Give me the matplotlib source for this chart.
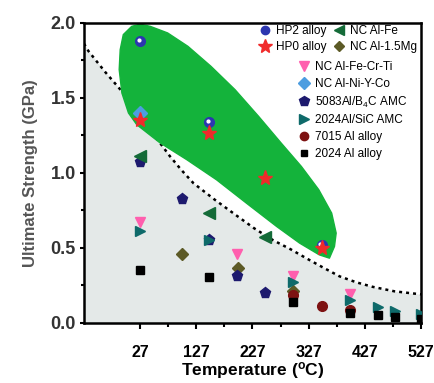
import numpy as np
import matplotlib
matplotlib.use('Agg')
import matplotlib.pyplot as plt
from matplotlib.lines import Line2D
from matplotlib.patches import Polygon
from matplotlib.ticker import MultipleLocator, FixedLocator
from matplotlib.transforms import offset_copy

plt.rcParams['font.family'] = ['Liberation Sans', 'DejaVu Sans']
plt.rcParams['mathtext.default'] = 'regular'

# data (temperature in C, strength in GPa)
hp2_t = [27, 150, 350]
hp2_s = [1.88, 1.335, 0.52]
hp0_t = [27, 150, 250, 350]
hp0_s = [1.353, 1.265, 0.965, 0.498]
alfe_t = [27, 150, 250]
alfe_s = [1.11, 0.735, 0.575]
almg_t = [101, 201, 300]
almg_s = [0.46, 0.365, 0.21]
alfecrti_t = [27, 200, 300, 400]
alfecrti_s = [0.67, 0.46, 0.31, 0.19]
alniyco_t = [27]
alniyco_s = [1.40]
b4c_t = [27, 101, 150, 200, 250]
b4c_s = [1.07, 0.825, 0.55, 0.313, 0.20]
sic_t = [27, 150, 300, 400, 450, 480, 527]
sic_s = [0.613, 0.55, 0.275, 0.15, 0.105, 0.08, 0.06]
al7015_t = [300, 350, 400]
al7015_s = [0.187, 0.113, 0.087]
al2024_t = [27, 150, 300, 400, 450, 480, 527]
al2024_s = [0.35, 0.305, 0.142, 0.065, 0.05, 0.04, 0.025]

# dashed boundary line
curve_t = [-73, -65, -35, -5, 20, 39, 60, 80, 100, 122, 160, 193, 230, 264, 295, 323, 352, 382, 412, 441, 480, 527]
curve_s = [1.86, 1.81, 1.67, 1.54, 1.42, 1.31, 1.21, 1.11, 1.02, 0.93, 0.82, 0.73, 0.63, 0.55, 0.49, 0.43, 0.37, 0.31, 0.27, 0.24, 0.21, 0.19]

# green highlight region outline
blob_t = [12, -3, -8.5, -10.3, -5.5, 6.2, 21, 62, 110, 163, 216, 270, 311, 346, 364,
          373, 376, 368, 345, 314, 278, 238, 196, 153, 112, 76, 45, 27]
blob_s = [1.975, 1.92, 1.82, 1.687, 1.531, 1.398, 1.32, 1.20, 1.087, 0.953, 0.798, 0.642, 0.531, 0.453, 0.431,
          0.509, 0.598, 0.731, 0.887, 1.042, 1.198, 1.375, 1.553, 1.709, 1.842, 1.931, 1.975, 1.99]

fig = plt.figure(figsize=(4.34, 3.83), dpi=100)
ax = fig.add_axes([0.1935, 0.157, 0.7765, 0.784])

ax.fill_between(curve_t, curve_s, 0, color='#e4e9e8', lw=0, zorder=0)
ax.plot(curve_t, curve_s, color='black', lw=1.8, ls=(0, (1.2, 1.6)), zorder=1)
ax.add_patch(Polygon(np.column_stack([blob_t, blob_s]), closed=True,
                     facecolor='#14b33b', edgecolor='#14b33b', lw=1, joinstyle='round', zorder=2))

ax.plot(alfecrti_t, alfecrti_s, 'v', color='#ff5fae', ms=7, ls='none', zorder=3)
ax.plot(almg_t, almg_s, 'D', color='#5c5a26', ms=6, ls='none', zorder=3)
ax.plot(b4c_t, b4c_s, 'p', color='#1d1a6e', ms=8, ls='none', zorder=3)
ax.plot(sic_t, sic_s, '>', color='#0e6a6a', ms=7, ls='none', zorder=4)
ax.plot(al7015_t, al7015_s, 'o', color='#7d1212', ms=7, ls='none', zorder=3)
ax.plot(al2024_t, al2024_s, 's', color='black', ms=6, ls='none', zorder=4)
ax.plot(alfe_t, alfe_s, '<', color='#146b38', ms=8, ls='none', zorder=4)
ax.plot(alniyco_t, alniyco_s, 'D', color='#4d9de0', ms=7, ls='none', zorder=4)
ax.plot(hp2_t, hp2_s, 'o', color='#2c36b0', ms=7, ls='none', zorder=5)
ax.plot(hp2_t, hp2_s, 'o', color='white', ms=2,
        transform=offset_copy(ax.transData, fig=fig, x=-0.8, y=0.8, units='points'), zorder=6)
ax.plot(hp0_t, hp0_s, '*', color='#f02a2a', ms=11, ls='none', zorder=6)

ax.set_xlim(-73, 527)
ax.set_ylim(0, 2.0)
ax.xaxis.set_major_locator(FixedLocator([27, 127, 227, 327, 427, 527]))
ax.xaxis.set_minor_locator(FixedLocator([77, 177, 277, 377, 477]))
ax.yaxis.set_major_locator(MultipleLocator(0.5))
ax.yaxis.set_minor_locator(MultipleLocator(0.25))
ax.yaxis.set_major_formatter(plt.FormatStrFormatter('%.1f'))
ax.tick_params(axis='x', which='major', direction='out', length=4, width=1.5, pad=12,
               labelsize=11.5, labelcolor='black')
ax.tick_params(axis='x', which='minor', direction='out', length=3, width=1.5)
ax.tick_params(axis='y', which='major', direction='out', length=3, width=1.5, pad=3,
               labelsize=13, labelcolor='#333333')
ax.tick_params(axis='y', which='minor', direction='out', length=2, width=1.5)
for lab in ax.get_xticklabels() + ax.get_yticklabels():
    lab.set_fontweight('bold')
for sp in ax.spines.values():
    sp.set_linewidth(1.8)

ax.set_xlabel('Temperature ($^\\mathregular{o}$C)', fontsize=12.5, fontweight='bold', labelpad=0)
ax.set_ylabel('Ultimate Strength (GPa)', fontsize=12, fontweight='bold', color='#555555', labelpad=9)

def h(marker, color, ms):
    return Line2D([], [], marker=marker, color=color, ms=ms, ls='none')

leg1 = ax.legend([h('o', '#2c36b0', 6), h('*', '#f02a2a', 10), h('<', '#146b38', 7), h('D', '#5c5a26', 5)],
                 ['HP2 alloy', 'HP0 alloy', 'NC Al-Fe', 'NC Al-1.5Mg'],
                 ncol=2, loc='upper right', bbox_to_anchor=(0.995, 1.0), frameon=False,
                 fontsize=8.5, handlelength=1.0, handletextpad=0.4, columnspacing=0.6,
                 labelspacing=0.35, borderpad=0.2, borderaxespad=0)
ax.add_artist(leg1)
ax.legend([h('v', '#ff5fae', 7), h('D', '#4d9de0', 6), h('p', '#1d1a6e', 7), h('>', '#0e6a6a', 7),
           h('o', '#7d1212', 6), h('s', 'black', 5)],
          ['NC Al-Fe-Cr-Ti', 'NC Al-Ni-Y-Co', '5083Al/B$_4$C AMC', '2024Al/SiC AMC',
           '7015 Al alloy', '2024 Al alloy'],
          loc='upper left', bbox_to_anchor=(0.636, 0.872), frameon=False,
          fontsize=8.5, handlelength=1.0, handletextpad=0.4, labelspacing=0.4,
          borderpad=0, borderaxespad=0)

fig.savefig('out.png', dpi=100)
